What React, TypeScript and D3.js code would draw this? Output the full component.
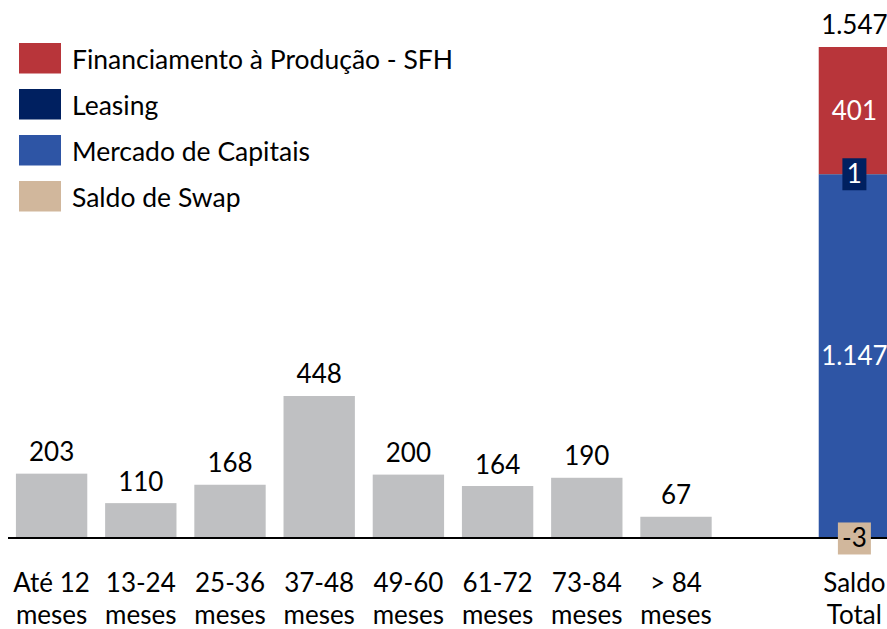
import React from "react";
import * as d3 from "d3";

const W = 887;
const H = 629;

const buckets = ["Até 12", "13-24", "25-36", "37-48", "49-60", "61-72", "73-84", "> 84"];
const bucketSub = "meses";
const bucketValues = [203, 110, 168, 448, 200, 164, 190, 67];

const totalLabel = ["Saldo", "Total"];
const seriesNames = ["Financiamento à Produção - SFH", "Leasing", "Mercado de Capitais", "Saldo de Swap"];
const seriesColors = ["#B8353A", "#002060", "#2E55A5", "#D1B79C"];
const totalValues = [401, 1, 1147, -3]; // SFH, Leasing, Mercado, Swap
const totalSumLabel = "1.547";
const totalValueLabels = ["401", "1", "1.147", "-3"];

const FONT = "Lato, 'Open Sans', sans-serif";
const FS = 26;

export default function App() {
  const slots = [...buckets, "_gap", "_total"];
  const x = d3.scaleBand<string>().domain(slots).range([7, 899]).paddingInner(0.2).paddingOuter(0.1);
  const y = d3.scaleLinear().domain([0, 1549]).range([538, 47]);
  const bw = x.bandwidth();

  const [sfh, leasing, merc, swap] = totalValues;
  const segs = [
    { name: seriesNames[2], color: seriesColors[2], y0: 0, y1: merc },
    { name: seriesNames[1], color: seriesColors[1], y0: merc, y1: merc + leasing },
    { name: seriesNames[0], color: seriesColors[0], y0: merc + leasing, y1: merc + leasing + sfh },
    { name: seriesNames[3], color: seriesColors[3], y0: swap, y1: 0 },
  ];
  const tx = (x("_total") as number) + bw / 2;

  return (
    <svg width={W} height={H} style={{ position: "absolute", left: 0, top: 0 }} fontFamily={FONT}>
      <rect width={W} height={H} fill="#fff" />
      {seriesNames.map((n, i) => (
        <g key={n} transform={`translate(19, ${43 + i * 46})`}>
          <rect width={42} height={30.5} fill={seriesColors[i]} />
          <text x={53} y={25.5} fontSize={26.5} fill="#000">{n}</text>
        </g>
      ))}
      {buckets.map((b, i) => {
        const x0 = x(b) as number;
        const v = bucketValues[i];
        return (
          <g key={b}>
            <rect x={x0} y={y(v)} width={bw} height={y(0) - y(v)} fill="#BFC0C2" />
            <text x={x0 + bw / 2} y={y(v) - 12.5} textAnchor="middle" fontSize={FS} fill="#000">{v}</text>
            <text x={x0 + bw / 2} y={592} textAnchor="middle" fontSize={FS} fill="#000">{b}</text>
            <text x={x0 + bw / 2} y={624} textAnchor="middle" fontSize={FS} fill="#000">{bucketSub}</text>
          </g>
        );
      })}
      {segs.map((s) => (
        <rect key={s.name} x={x("_total")} y={y(Math.max(s.y0, s.y1))} width={bw}
          height={Math.abs(y(s.y0) - y(s.y1))} fill={s.color} />
      ))}
      <line x1={8} x2={W} y1={y(0)} y2={y(0)} stroke="#000" strokeWidth={2} />
      <text x={tx} y={y(merc + leasing + sfh) - 13.5} textAnchor="middle" fontSize={FS} fill="#000">{totalSumLabel}</text>
      <text x={tx} y={y(merc + leasing + sfh / 2) + 9} textAnchor="middle" fontSize={FS} fill="#fff">{totalValueLabels[0]}</text>
      <text x={tx} y={y(merc * 0.5) + 9} textAnchor="middle" fontSize={FS} fill="#fff">{totalValueLabels[2]}</text>
      <rect x={tx - 12} y={y(merc + leasing / 2) - 16} width={24} height={32} fill={seriesColors[1]} />
      <text x={tx} y={y(merc + leasing / 2) + 8.5} textAnchor="middle" fontSize={FS} fill="#fff">{totalValueLabels[1]}</text>
      <rect x={tx - 16.5} y={y(swap / 2) - 16} width={33} height={32} fill={seriesColors[3]} />
      <text x={tx} y={y(swap / 2) + 8.5} textAnchor="middle" fontSize={FS} fill="#000">{totalValueLabels[3]}</text>
      <text x={tx} y={592} textAnchor="middle" fontSize={FS} fill="#000">{totalLabel[0]}</text>
      <text x={tx} y={624} textAnchor="middle" fontSize={FS} fill="#000">{totalLabel[1]}</text>
    </svg>
  );
}
